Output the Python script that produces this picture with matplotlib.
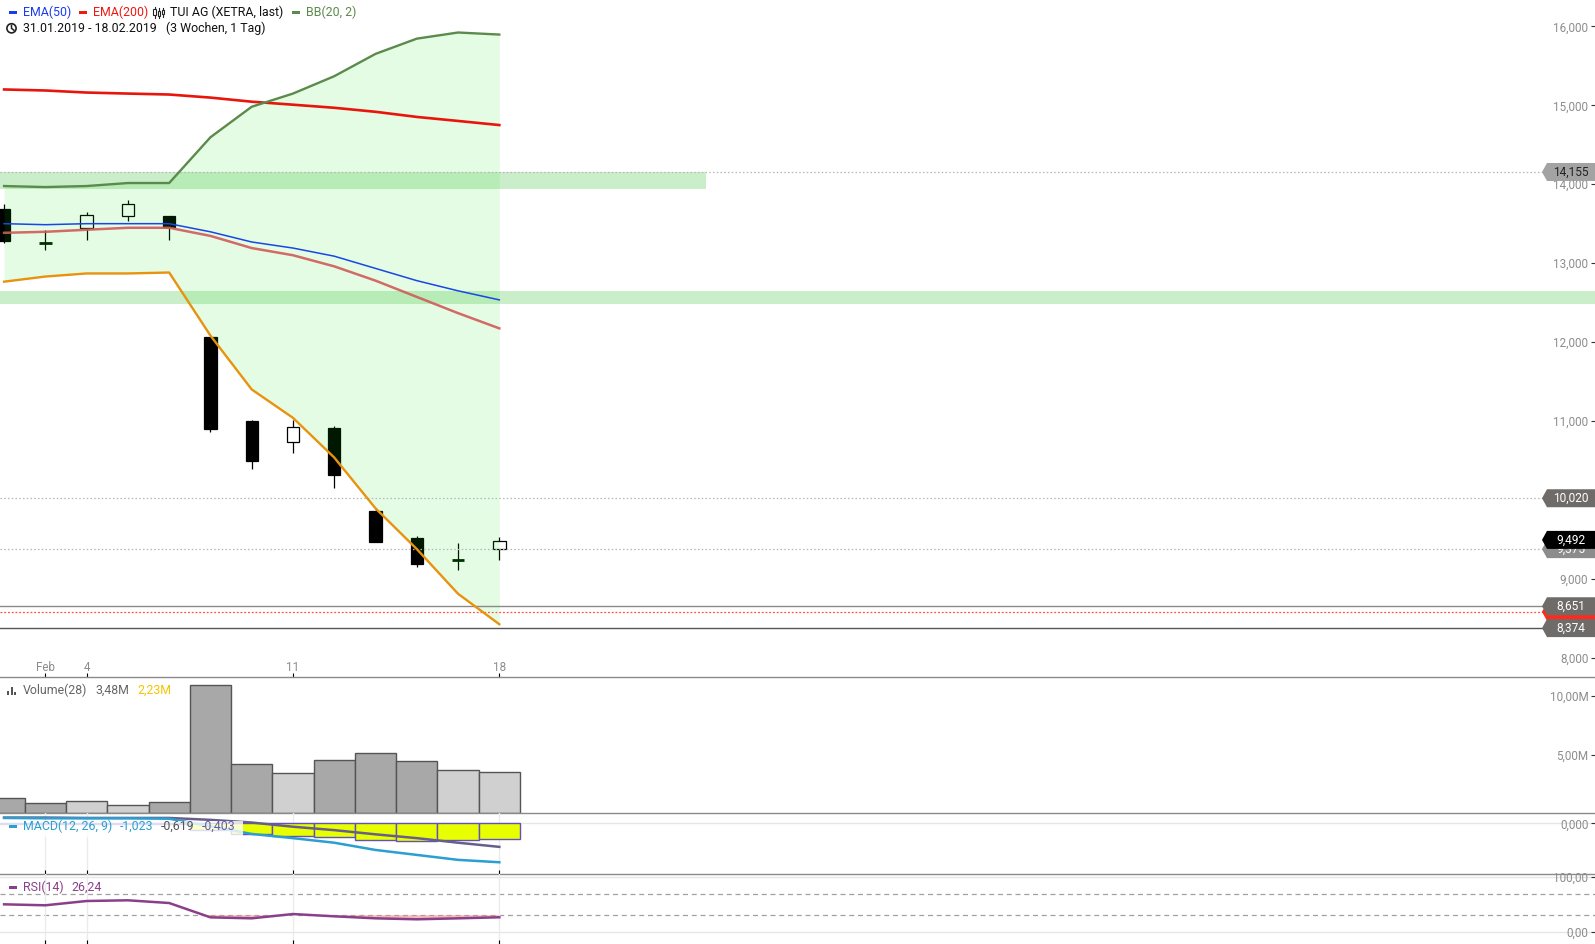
import matplotlib
matplotlib.use('Agg')
import matplotlib.pyplot as plt
from matplotlib.patches import Rectangle, Polygon, Circle
from matplotlib.lines import Line2D
from matplotlib.transforms import IdentityTransform
import numpy as np

plt.rcParams['font.family'] = ['Roboto', 'DejaVu Sans']

# ---- data (TUI AG, XETRA, 31.01.2019 - 18.02.2019) ----
days = ['31.01', '01.02', '04.02', '05.02', '06.02', '07.02', '08.02',
        '11.02', '12.02', '13.02', '14.02', '15.02', '18.02']
opens = [13.686, 13.251, 13.440, 13.601, 13.597, 12.067, 10.999,
         10.737, 10.906, 9.858, 9.512, 9.241, 9.375]
highs = [13.749, 13.420, 13.644, 13.800, 13.597, 12.067, 11.011,
         11.011, 10.935, 9.900, 9.541, 9.453, 9.528]
lows = [13.259, 13.166, 13.293, 13.537, 13.293, 10.863, 10.394,
        10.597, 10.153, 9.469, 9.152, 9.110, 9.241]
closes = [13.284, 13.251, 13.610, 13.745, 13.461, 10.901, 10.496,
          10.919, 10.318, 9.469, 9.190, 9.241, 9.478]

ema50 = [13.500, 13.487, 13.500, 13.500, 13.500, 13.397, 13.268,
         13.191, 13.088, 12.933, 12.778, 12.649, 12.534]
ema200 = [15.201, 15.188, 15.162, 15.149, 15.137, 15.098, 15.046,
          15.008, 14.969, 14.918, 14.853, 14.802, 14.750]
bb_upper = [13.977, 13.964, 13.977, 14.015, 14.015, 14.595, 14.982,
            15.149, 15.369, 15.652, 15.845, 15.923, 15.897]
bb_mid = [13.384, 13.397, 13.423, 13.448, 13.448, 13.345, 13.191,
          13.100, 12.959, 12.778, 12.572, 12.366, 12.173]
bb_lower = [12.765, 12.830, 12.869, 12.869, 12.881, 12.082, 11.399,
            11.039, 10.536, 9.892, 9.376, 8.809, 8.423]

volume = [1.28, 0.90, 1.02, 0.68, 1.00, 10.95, 4.20,
          3.43, 4.55, 5.16, 4.46, 3.68, 3.48]
vol_up = [False, False, True, True, False, False, False,
          True, False, False, False, True, True]

macd = [0.14, 0.13, 0.13, 0.13, 0.12, -0.08, -0.28,
        -0.39, -0.51, -0.70, -0.83, -0.96, -1.023]
signal = [0.15, 0.15, 0.14, 0.14, 0.14, 0.09, 0.02,
          -0.09, -0.18, -0.29, -0.39, -0.51, -0.619]
hist = [-0.01, -0.02, -0.01, -0.01, -0.02, -0.17, -0.29,
        -0.33, -0.37, -0.44, -0.47, -0.44, -0.403]

rsi = [50.1, 48.3, 56.2, 57.5, 52.5, 26.1, 24.3,
       32.2, 28.0, 24.3, 22.5, 24.3, 26.24]

# support / resistance zones: (low, high, end index or None = full width)
zones = [(13.940, 14.155, 17.0), (12.482, 12.649, None)]

# price tags on the right: (value, label, box colour, text colour)
tags = [(14.155, '14,155', '#a3a3a3', '#222222'),
        (10.020, '10,020', '#6f6b68', 'white'),
        (9.375, '9,375', '#8c8c8c', 'white'),
        (9.492, '9,492', '#000000', 'white'),
        (8.580, '', '#ff2a1a', 'white'),
        (8.651, '8,651', '#6f6b68', 'white'),
        (8.374, '8,374', '#6f6b68', 'white')]
dotted_levels = [14.155, 10.020, 9.375]
red_level = 8.580
solid_levels = [(8.651, '#8a8a8a'), (8.374, '#555555')]

tick_idx = [1, 2, 7, 12]
tick_lbl = ['Feb', '4', '11', '18']

price_ticks = [8, 9, 10, 11, 12, 13, 14, 15, 16]
vol_ticks = [5, 10]

# ---- layout ----
W, H = 1595, 944
fig = plt.figure(figsize=(W / 100, H / 100), dpi=100)
ident = IdentityTransform()


def panel(top, bottom):
    return fig.add_axes([0, 1 - bottom / H, 1, (bottom - top) / H])


ax = panel(0, 676.7)
axv = panel(676.7, 813.3)
axm = panel(813.3, 874.3)
axr = panel(874.3, 944)

x = np.arange(len(days))
XLIM = (-0.099, 38.55)

for a in (ax, axv, axm, axr):
    a.set_xlim(*XLIM)
    for s in ('top', 'left', 'right'):
        a.spines[s].set_visible(False)
    a.spines['bottom'].set_color('#8a8a8a')
    a.spines['bottom'].set_linewidth(1.0)
    a.set_xticks(tick_idx)
    a.tick_params(axis='x', direction='in', length=3, width=0.8,
                  color='black', labelbottom=False)
    a.yaxis.tick_right()
    a.tick_params(axis='y', direction='in', length=3, width=0.8,
                  color='#333333', labelcolor='#8c8c8c', labelsize=8.4,
                  pad=-4.8)
    a.set_facecolor('none')
axr.spines['bottom'].set_visible(False)

# ---- main price panel ----
ax.set_ylim(7.758, 16.335)
ax.set_yticks(price_ticks, [f'{v:,.3f}'.replace('.', ',') for v in price_ticks])
ax.set_xticks(tick_idx, tick_lbl)
ax.tick_params(axis='x', labelbottom=True, labelcolor='#8c8c8c',
               labelsize=8.4, pad=-11)

bw = 0.30
for i in x:
    o, h, l, c = opens[i], highs[i], lows[i], closes[i]
    ax.vlines(i, l, h, color='black', lw=0.9, zorder=2)
    if abs(c - o) < 1e-6:
        ax.hlines(c, i - bw / 2, i + bw / 2, color='#001a00', lw=2.0, zorder=2)
    else:
        up = c > o
        ax.add_patch(Rectangle((i - bw / 2, min(o, c)), bw, abs(c - o),
                               facecolor='white' if up else 'black',
                               edgecolor='black', lw=0.9, zorder=2.1))

ax.fill_between(x, bb_lower, bb_upper, color='#00e600', alpha=0.105,
                lw=0, zorder=3)

for lo, hi, end in zones:
    xmax = 1.0 if end is None else (end - XLIM[0]) / (XLIM[1] - XLIM[0])
    ax.axhspan(lo, hi, xmin=0, xmax=xmax, color='#52c952', alpha=0.3,
               lw=0, zorder=3.2)

for lv in dotted_levels:
    ax.axhline(lv, color='#b5b5b5', lw=0.9, ls=(0, (1.2, 1.8)), zorder=3.3)
ax.axhline(red_level, color='#ff5040', lw=0.9, ls=(0, (1.5, 1.5)), zorder=3.3)
for lv, col in solid_levels:
    ax.axhline(lv, color=col, lw=1.0, zorder=3.3)

ax.plot(x, ema200, color='#e8150c', lw=1.9, zorder=4)
ax.plot(x, bb_upper, color='#5c8a4c', lw=1.7, zorder=4)
ax.plot(x, bb_lower, color='#e8920e', lw=1.7, zorder=4)
ax.plot(x, bb_mid, color='#d05a5a', lw=1.8, alpha=0.9, zorder=4)
ax.plot(x, ema50, color='#1747e6', lw=1.1, zorder=4.1)

# ---- volume ----
axv.set_ylim(0, 11.63)
axv.set_yticks(vol_ticks, [f'{v:.2f}M'.replace('.', ',') for v in vol_ticks])
axv.bar(x, volume, width=1.0,
        color=['#d0d0d0' if u else '#a8a8a8' for u in vol_up],
        edgecolor='#555555', lw=1.0, zorder=2)

# ---- MACD ----
axm.set_ylim(-1.339, 0.262)
axm.set_yticks([0], ['0,000'])
axm.grid(axis='x', color='#ebebeb', lw=1.0, zorder=0)
axm.axhline(0, color='#e6e6e6', lw=1.0, zorder=0.5)
axm.bar(x, hist, width=1.0, color='#e8ff00', edgecolor='#6050c0',
        lw=1.0, zorder=2)
axm.plot(x, signal, color='#675e8c', lw=1.8, zorder=3)
axm.plot(x, macd, color='#2a9fd0', lw=1.8, zorder=3)

# ---- RSI ----
axr.set_ylim(-23.0, 105.4)
axr.set_yticks([0, 100], ['0,00', '100,00'])
axr.grid(axis='x', color='#ebebeb', lw=1.0, zorder=0)
for lv in (0, 100):
    axr.axhline(lv, color='#e6e6e6', lw=1.0, zorder=0.5)
for lv in (30, 70):
    axr.axhline(lv, color='#a0a0a0', lw=0.9, ls=(0, (4, 3)), zorder=1)
rsi_a = np.array(rsi)
axr.fill_between(x, rsi_a, 30, where=rsi_a < 30, interpolate=True,
                 color='#f08c8c', alpha=0.6, lw=0, zorder=1.5)
axr.plot(x, rsi, color='#8b3f8b', lw=1.8, zorder=3)

for a in (ax, axv, axm, axr):
    for lab in a.get_yticklabels():
        lab.set_horizontalalignment('right')

# ---- price tags (figure pixels) ----
fig.canvas.draw()
for k, (val, lab, fc, tc) in enumerate(tags):
    yd = ax.transData.transform((0, val))[1]
    verts = [(1542, yd), (1547, yd + 9), (1595, yd + 9),
             (1595, yd - 9), (1547, yd - 9)]
    fig.add_artist(Polygon(verts, closed=True, facecolor=fc, edgecolor='none',
                           transform=ident, zorder=5 + k))
    if lab:
        fig.text(1570.5, yd, lab, transform=ident, ha='center', va='center',
                 color=tc, fontsize=8.6, zorder=5.5 + k)


# ---- legends ----
def ftext(px, py, s, color, **kw):
    fig.text(px, H - py, s, transform=ident, ha='left', va='center',
             color=color, fontsize=8.9, zorder=30, **kw)


def dash(px, py, color):
    fig.add_artist(Rectangle((px, H - py - 1.5), 7.5, 3, facecolor=color,
                             edgecolor='none', transform=ident, zorder=30))


dash(9, 12.7, '#1a3cf0')
ftext(23.3, 12.7, 'EMA(50)', '#1a3cf0')
dash(79, 12.7, '#ee1a12')
ftext(93.3, 12.7, 'EMA(200)', '#ee1a12')
for cx, b0, b1, w0, w1 in [(154.5, 9, 15, 7, 18), (158.8, 11, 16, 8, 18),
                           (163.0, 10, 14, 8, 17)]:
    fig.add_artist(Line2D([cx, cx], [H - w0, H - w1], color='#222', lw=0.8,
                          transform=ident, zorder=30))
    fig.add_artist(Rectangle((cx - 1.3, H - b1), 2.6, b1 - b0, facecolor='white',
                             edgecolor='#222', lw=0.8, transform=ident, zorder=31))
ftext(170, 12.7, 'TUI AG (XETRA, last)', '#111111')
dash(292, 12.7, '#5c8a4c')
ftext(306, 12.7, 'BB(20, 2)', '#5c8a4c')

fig.add_artist(Circle((11.5, H - 28.3), 4.6, fill=False, edgecolor='#222',
                      lw=1.2, transform=ident, zorder=30))
fig.add_artist(Line2D([11.5, 11.5, 14], [H - 25.3, H - 28.3, H - 30.3],
                      color='#222', lw=1.1, transform=ident, zorder=30))
ftext(22.7, 28.3, '31.01.2019 - 18.02.2019', '#111111')
ftext(166, 28.3, '(3 Wochen, 1 Tag)', '#111111')

# volume legend
for bx, bh in [(7, 4.5), (10.5, 8.3), (14, 3)]:
    fig.add_artist(Rectangle((bx, H - 695), 2.3, bh, facecolor='#555',
                             edgecolor='none', transform=ident, zorder=30))
ftext(23.3, 690.7, 'Volume(28)', '#666666')
ftext(95.7, 690.7, '3,48M', '#666666')
ftext(137, 690.7, '2,23M', '#f5c400')

# MACD legend with translucent box
fig.add_artist(Rectangle((0, H - 837), 243, 16.5, facecolor='white',
                         edgecolor='none', alpha=0.8, transform=ident, zorder=25))
dash(9, 826.7, '#2a9fd0')
ftext(23.3, 826.7, 'MACD(12, 26, 9)', '#2a9fd0')
ftext(119.5, 826.7, '-1,023', '#2a9fd0')
ftext(160.5, 826.7, '-0,619', '#555555')
ftext(202.0, 826.7, '-0,403', '#675e9c')

# RSI legend
dash(9, 887.8, '#8b3f8b')
ftext(23.3, 887.3, 'RSI(14)', '#8b3f8b')
ftext(71.7, 887.3, '26,24', '#8b3f8b')

fig.savefig('out.png', dpi=100)
